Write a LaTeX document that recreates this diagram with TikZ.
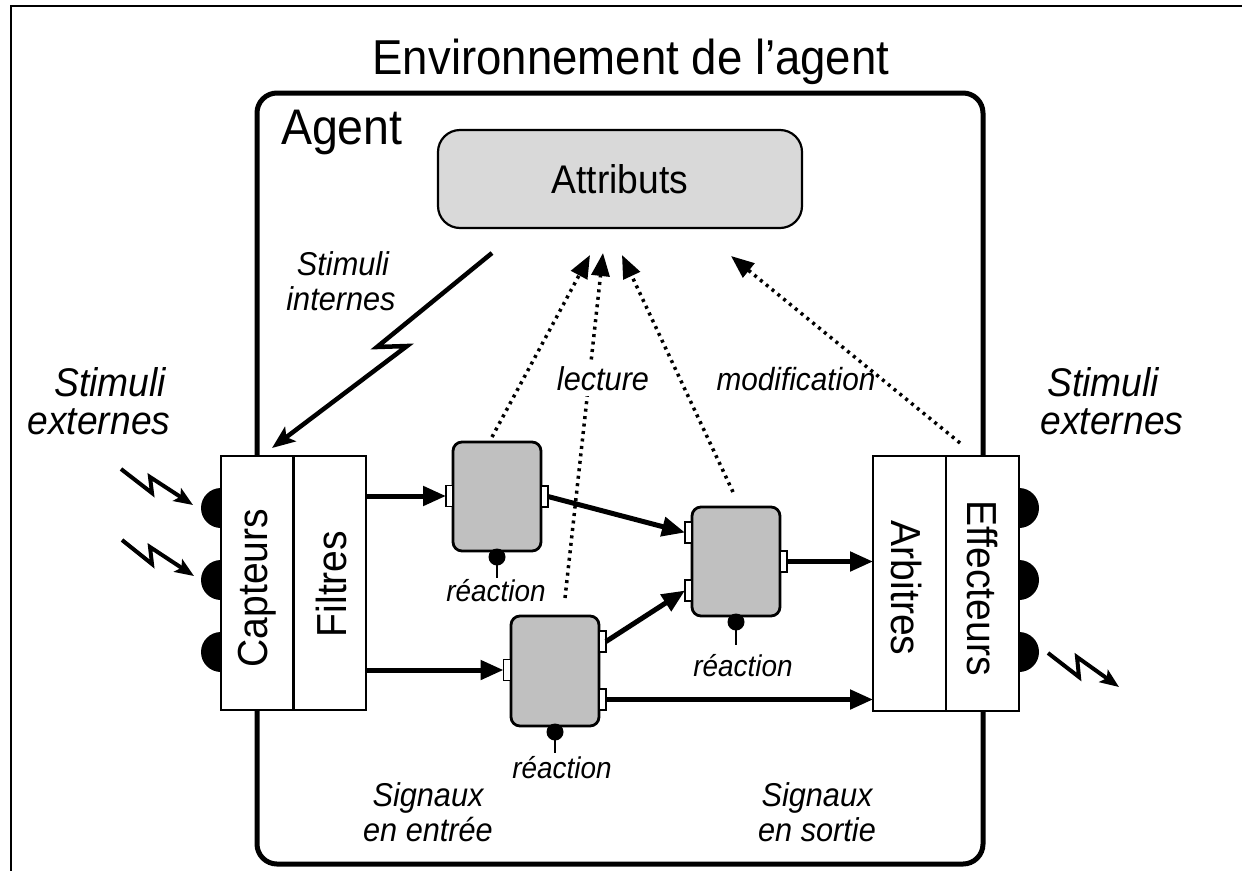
\documentclass[tikz,border=0pt]{standalone}
\usepackage{fontspec}
\setmainfont{Liberation Sans}[FakeStretch=0.93]
\usetikzlibrary{arrows.meta}
\definecolor{attrgray}{RGB}{217,217,217}
\definecolor{reactgray}{RGB}{192,192,192}
\begin{document}
\begin{tikzpicture}[x=1pt,y=-1pt,
  every node/.style={inner sep=0pt, outer sep=0pt},
  fs/.style={font=\fontsize{#1}{#1}\selectfont},
  fsi/.style={font=\fontsize{#1}{#1}\selectfont\itshape},
  block/.style={draw, fill=white, line width=2.2},
  rbox/.style={draw, fill=reactgray, line width=2.8, rounded corners=9, minimum width=88, minimum height=109},
  port/.style={draw, fill=white, line width=1.3, minimum width=7, minimum height=21},
  knob/.style={circle, fill=black, minimum size=17},
  arr/.style={line width=5, -{Triangle[length=23pt,width=19pt]}},
  dotarr/.style={line width=3.5, dash pattern=on 3pt off 4.5pt, -{Triangle[length=23pt,width=18pt]}},
  bolt/.style={line width=4, line join=miter, -{Stealth[length=19pt,width=15pt,inset=4pt]}},
  hemi/.style={fill=black}
]
\useasboundingbox (0,0) rectangle (1242,871);

% outer frame
\coordinate (fTL) at (11,6);
\coordinate (fTR) at (1242,6);
\coordinate (fBL) at (11,871);
\draw[line width=2] (fTR) -- (fTL) -- (fBL);

% title
\node[fs=49, anchor=base] (title) at (631,74) {Environnement de l’agent};

% agent box
\node[draw, line width=5, rounded corners=20, minimum width=726, minimum height=771] (agent) at (620,478.5) {};
\node[fs=50, anchor=base west] (agentlbl) at (281,144) {Agent};

% attributs
\node[draw, fill=attrgray, line width=2.2, rounded corners=22, minimum width=364, minimum height=98, fs=40] (attr) at (620,179) {Attributs};

% reaction boxes
\node[rbox] (r1) at (497,496.5) {};
\node[rbox, minimum height=110] (r2) at (555,671) {};
\node[rbox] (r3) at (736,561.5) {};

\node[port] (r1in) at (449.5,496) {};
\node[port] (r1out) at (544.5,496.5) {};
\node[port] (r2in) at (507,670) {};
\node[port] (r2o1) at (602.5,641.5) {};
\node[port] (r2o2) at (602.5,699.5) {};
\node[port] (r3i1) at (688.5,532.5) {};
\node[port] (r3i2) at (688.5,590.5) {};
\node[port] (r3out) at (783.5,561.5) {};

\node[knob] (k1) at (497,557) {};
\node[knob] (k2) at (555,732) {};
\node[knob] (k3) at (736,622) {};
\draw[line width=2.8] (k1.center) -- ++(0,21);
\draw[line width=2.8] (k2.center) -- ++(0,21);
\draw[line width=2.8] (k3.center) -- ++(0,23);
\node[fsi=30, anchor=base] (rx1) at (496,601) {réaction};
\node[fsi=30, anchor=base] (rx2) at (562,778) {réaction};
\node[fsi=30, anchor=base] (rx3) at (743,676) {réaction};

% capteurs / filtres block
\node[block, minimum width=145, minimum height=254] (cf) at (293.5,583) {};
\draw[line width=2.2] (cf.north) -- (cf.south);
\node[fs=42, rotate=90] (capt) at (257,588) {Capteurs};
\node[fs=42, rotate=90] (filt) at (331,584) {Filtres};

% arbitres / effecteurs block
\node[block, minimum width=146, minimum height=255] (ae) at (946,583.5) {};
\draw[line width=2.2] (ae.north) -- (ae.south);
\node[fs=42, rotate=-90] (arb) at (907,588) {Arbitres};
\node[fs=42, rotate=-90] (eff) at (982,588) {Effecteurs};

% sensors / effectors (half disks)
\foreach \yy in {508,580,652}{
  \fill[hemi] (221,\yy-20) arc[start angle=270,end angle=90,radius=20] -- cycle;
  \fill[hemi] (1019,\yy-20) arc[start angle=270,end angle=450,radius=20] -- cycle;
}

% signal arrows
\draw[arr] (cf.east |- r1in) -- (r1in.west);
\draw[arr] (cf.east |- r2in) -- (r2in.west);
\draw[arr] (r1out.east) -- (r3i1.west);
\draw[arr] (r2o1.east) -- (r3i2.west);
\draw[arr] (r3out.east) -- (ae.west |- r3out);
\draw[arr] (r2o2.east) -- (ae.west |- r2o2);

% dotted reading / modification arrows
\coordinate (d1s) at (492,437);
\coordinate (d1e) at (590,255);
\coordinate (d2s) at (565,598);
\coordinate (d2e) at (603,253);
\coordinate (d3s) at (733,492);
\coordinate (d3e) at (622,255);
\coordinate (d4s) at (960,443);
\coordinate (d4e) at (731,256);
\draw[dotarr] (d1s) -- (d1e);
\draw[dotarr] (d2s) -- (d2e);
\draw[dotarr] (d3s) -- (d3e);
\draw[dotarr] (d4s) -- (d4e);

\node[fsi=33, anchor=base, fill=white, inner ysep=6pt, inner xsep=2pt] (lect) at (603,390) {lecture};
\node[fsi=32, anchor=base] (modif) at (796,390) {modification};

% internal stimuli bolt
\coordinate (si0) at (492,253);
\coordinate (si1) at (377,347);
\coordinate (si2) at (407,346);
\coordinate (si3) at (272,448);
\draw[bolt, -{Stealth[length=23pt,width=18pt,inset=5pt]}, line width=4.5] (si0) -- (si1) -- (si2) -- (si3);
\node[fsi=33, anchor=base] (sint1) at (343,275) {Stimuli};
\node[fsi=33, anchor=base] (sint2) at (341,310) {internes};

% external stimuli bolts (in)
\coordinate (ea0) at (121,469);
\coordinate (ea1) at (152,493);
\coordinate (ea2) at (150,477);
\coordinate (ea3) at (193,505);
\draw[bolt] (ea0) -- (ea1) -- (ea2) -- (ea3);
\coordinate (eb0) at (122,540);
\coordinate (eb1) at (152,564);
\coordinate (eb2) at (150,547);
\coordinate (eb3) at (194,576);
\draw[bolt] (eb0) -- (eb1) -- (eb2) -- (eb3);
% external bolt (out)
\coordinate (ec0) at (1048,653);
\coordinate (ec1) at (1079,677);
\coordinate (ec2) at (1077,657);
\coordinate (ec3) at (1119,687);
\draw[bolt] (ec0) -- (ec1) -- (ec2) -- (ec3);

\node[fsi=40, anchor=base] (sextl1) at (110,396) {Stimuli};
\node[fsi=40, anchor=base] (sextl2) at (99,434) {externes};
\node[fsi=40, anchor=base] (sextr1) at (1103,396) {Stimuli};
\node[fsi=40, anchor=base] (sextr2) at (1112,434) {externes};

% signals labels
\node[fsi=33, anchor=base] (sigin1) at (428,806) {Signaux};
\node[fsi=33, anchor=base] (sigin2) at (428,841) {en entrée};
\node[fsi=33, anchor=base] (sigout1) at (817,806) {Signaux};
\node[fsi=33, anchor=base] (sigout2) at (817,841) {en sortie};
\end{tikzpicture}
\end{document}
